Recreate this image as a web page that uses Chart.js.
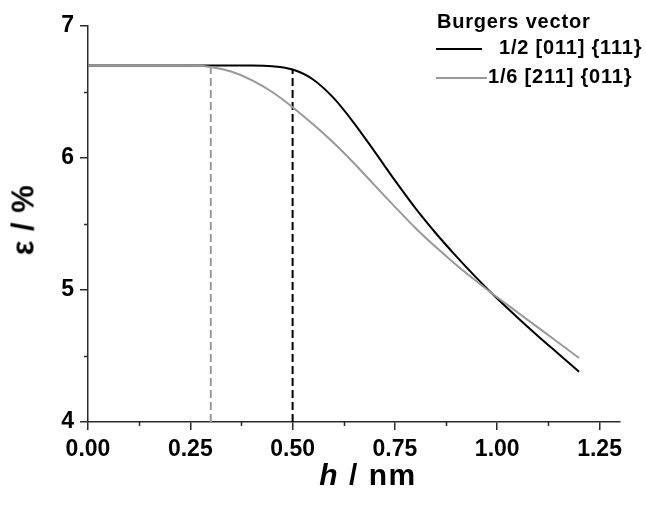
<!DOCTYPE html>
<html>
<head>
<meta charset="utf-8">
<script src="https://cdn.jsdelivr.net/npm/chart.js@4"></script>
<style>
    html, body {
        margin: 0;
        padding: 0;
        background: #ffffff;
        overflow: hidden;
    }

    #wrap {
        position: relative;
        width: 646px;
        height: 505px;
        font-family: "Liberation Sans", Arial, sans-serif;
        font-weight: bold;
        color: #000;
    }

    #chart {
        position: absolute;
        left: 0;
        top: 0;
    }

    .txt {
        position: absolute;
        white-space: nowrap;
        line-height: 20px;
        font-size: 20px;
        letter-spacing: 0.8px;
    }

    .swatch {
        position: absolute;
        height: 2px;
    }

    #xTitle {
        position: absolute;
        left: 368px;
        top: 460px;
        transform: translateX(-50%);
        font-size: 30px;
        line-height: 30px;
        letter-spacing: 1.5px;
        white-space: nowrap;
    }

    #yTitle {
        position: absolute;
        left: 23px;
        top: 220px;
        transform: translate(-50%, -50%) rotate(-90deg);
        font-size: 31px;
        line-height: 31px;
        letter-spacing: 0.5px;
        white-space: nowrap;
    }
</style>
</head>
<body>
<div id="wrap">
    <canvas id="chart" width="646" height="505"></canvas>

    <div id="yTitle">ε / %</div>
    <div id="xTitle"><i>h</i> / nm</div>

    <!-- legend -->
    <div class="txt" style="left:437px; top:11px;">Burgers vector</div>
    <div class="swatch" style="left:436px; top:48px; width:46px; background:#000;"></div>
    <div class="txt" style="left:499px; top:37px;">1/2 [011] {111}</div>
    <div class="swatch" style="left:436px; top:77px; width:51px; background:#999;"></div>
    <div class="txt" style="left:488px; top:66px;">1/6 [211] {011}</div>
</div>

<script>
// ==========================================
// DATA
// ==========================================

const hValues = [
    0.00, 0.05, 0.10, 0.15, 0.20, 0.25, 0.30, 0.35, 0.40, 0.45,
    0.50, 0.55, 0.60, 0.65, 0.70, 0.75, 0.80, 0.85, 0.90, 0.95,
    1.00, 1.05, 1.10, 1.15, 1.20
];

// 1/2 [011] {111}
const strainFull = [
    6.700, 6.700, 6.700, 6.700, 6.700, 6.700, 6.700, 6.700, 6.700, 6.695,
    6.670, 6.595, 6.455, 6.265, 6.050, 5.830, 5.620, 5.430, 5.255, 5.090,
    4.935, 4.790, 4.650, 4.515, 4.380
];

// 1/6 [211] {011}
const strainPartial = [
    6.700, 6.700, 6.700, 6.700, 6.700, 6.700, 6.690, 6.655, 6.590, 6.500,
    6.385, 6.255, 6.115, 5.960, 5.795, 5.630, 5.470, 5.325, 5.190, 5.065,
    4.945, 4.830, 4.715, 4.600, 4.485
];

// critical thickness markers (dashed)
const markerH = [0.3, 0.5];
const markerTop = [6.69, 6.67];

const xTickValues = [0, 0.25, 0.5, 0.75, 1.0, 1.25];
const yTickValues = [4, 5, 6, 7];
const xMinorTicks = [0.125, 0.375, 0.625, 0.875, 1.125];
const yMinorTicks = [4.5, 5.5, 6.5];

const axisColor = '#2b2b2b';
const tickFont = {
    family: '"Liberation Sans", Arial, sans-serif',
    size: 23,
    weight: 'bold'
};

function toPoints(xs, ys) {
    return xs.map((x, i) => ({ x: x, y: ys[i] }));
}

// ==========================================
// MINOR TICKS
// ==========================================

const minorTicks = {
    id: 'minorTicks',
    afterDraw(chart) {
        const ctx = chart.ctx;
        const xs = chart.scales.x;
        const ys = chart.scales.y;

        ctx.save();
        ctx.strokeStyle = axisColor;
        ctx.lineWidth = 1.5;
        ctx.beginPath();

        xMinorTicks.forEach(v => {
            const px = Math.round(xs.getPixelForValue(v)) + 0.5;
            ctx.moveTo(px, ys.bottom);
            ctx.lineTo(px, ys.bottom + 4);
        });

        yMinorTicks.forEach(v => {
            const py = Math.round(ys.getPixelForValue(v)) + 0.5;
            ctx.moveTo(xs.left - 4, py);
            ctx.lineTo(xs.left, py);
        });

        ctx.stroke();
        ctx.restore();
    }
};

// ==========================================
// CHART
// ==========================================

new Chart(document.getElementById('chart'), {

    type: 'line',

    data: {
        datasets: [
            {
                label: '1/6 [211] {011}',
                data: toPoints(hValues, strainPartial),
                borderColor: '#999999',
                borderWidth: 2,
                pointRadius: 0,
                cubicInterpolationMode: 'monotone'
            },
            {
                label: '1/2 [011] {111}',
                data: toPoints(hValues, strainFull),
                borderColor: '#000000',
                borderWidth: 2,
                pointRadius: 0,
                cubicInterpolationMode: 'monotone'
            },
            {
                label: 'marker partial',
                data: [
                    { x: markerH[0], y: 4 },
                    { x: markerH[0], y: markerTop[0] }
                ],
                borderColor: '#999999',
                borderWidth: 2,
                borderDash: [8, 4],
                pointRadius: 0
            },
            {
                label: 'marker full',
                data: [
                    { x: markerH[1], y: 4 },
                    { x: markerH[1], y: markerTop[1] }
                ],
                borderColor: '#000000',
                borderWidth: 2,
                borderDash: [8, 4],
                pointRadius: 0
            }
        ]
    },

    options: {

        responsive: false,
        animation: false,
        devicePixelRatio: 1,

        layout: {
            padding: { left: 0, right: 26, top: 26, bottom: 0 }
        },

        plugins: {
            legend: { display: false },
            tooltip: { enabled: false }
        },

        scales: {

            x: {
                type: 'linear',
                min: 0,
                max: 1.3,
                afterFit: s => { s.height = 83; },
                afterBuildTicks: s => {
                    s.ticks = xTickValues.map(v => ({ value: v }));
                },
                border: { color: axisColor, width: 1.5 },
                grid: {
                    drawOnChartArea: false,
                    color: axisColor,
                    lineWidth: 1.5,
                    tickLength: 8
                },
                ticks: {
                    color: '#000',
                    font: tickFont,
                    padding: 6,
                    maxRotation: 0,
                    callback: v => Number(v).toFixed(2)
                }
            },

            y: {
                type: 'linear',
                min: 4,
                max: 7,
                afterFit: s => { s.width = 88; },
                afterBuildTicks: s => {
                    s.ticks = yTickValues.map(v => ({ value: v }));
                },
                border: { color: axisColor, width: 1.5 },
                grid: {
                    drawOnChartArea: false,
                    color: axisColor,
                    lineWidth: 1.5,
                    tickLength: 8
                },
                ticks: {
                    color: '#000',
                    font: tickFont,
                    padding: 6,
                    callback: v => String(v)
                }
            }
        }
    },

    plugins: [minorTicks]
});
</script>
</body>
</html>
